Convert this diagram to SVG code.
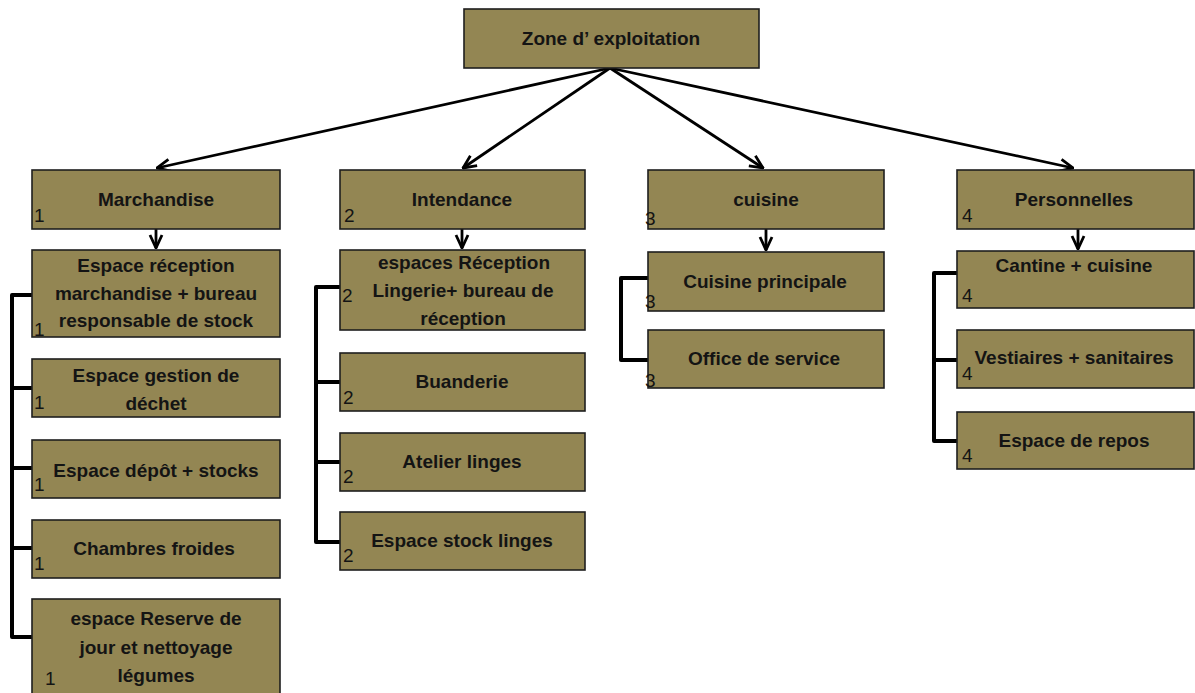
<svg xmlns="http://www.w3.org/2000/svg" width="1195" height="693" viewBox="0 0 1195 693">
<style>
.box{fill:#938653;stroke:#1e1e1e;stroke-width:1.6}
.t{font-family:"Liberation Sans",Arial,sans-serif;font-weight:bold;font-size:19px;fill:#141414;text-anchor:middle}
.n{font-family:"Liberation Sans",Arial,sans-serif;font-size:19px;fill:#141414}
.arr{fill:none;stroke:#000;stroke-width:2.8;marker-end:url(#ah)}
.br{fill:none;stroke:#000;stroke-width:4;stroke-linejoin:round}
</style>
<defs>
<marker id="ah" viewBox="0 0 16 16" refX="15" refY="8" markerWidth="16" markerHeight="16" markerUnits="userSpaceOnUse" orient="auto">
<path d="M2,2 L15,8 L2,14" fill="none" stroke="#000" stroke-width="2.8"/>
</marker>
</defs>
<rect width="1195" height="693" fill="#fff"/>
<g id="connectors">
<path class="arr" d="M610,68 L157,168"/>
<path class="arr" d="M610,68 L463,168"/>
<path class="arr" d="M610,68 L763,168"/>
<path class="arr" d="M610,68 L1073,168"/>
<path class="arr" d="M156,229 L156,248"/>
<path class="arr" d="M462,229 L462,248"/>
<path class="arr" d="M766,229 L766,250"/>
<path class="arr" d="M1078,229 L1078,249"/>
<path class="br" d="M36,295 H12 V637 H36 M12,388 H36 M12,468 H36 M12,548 H36"/>
<path class="br" d="M342,287 H316 V542 H342 M316,382 H342 M316,462 H342"/>
<path class="br" d="M650,278 H621 V360 H650"/>
<path class="br" d="M960,273 H934 V441 H960 M934,360 H960"/>
</g>
<g id="zone"><rect class="box" x="464" y="9" width="295" height="59"/><text class="t" x="611" y="45">Zone d’ exploitation</text></g>
<g id="marchandise"><rect class="box" x="32" y="170" width="248" height="59"/><text class="t" x="156" y="206">Marchandise</text><text class="n" x="34" y="222">1</text></g>
<g id="intendance"><rect class="box" x="340" y="170" width="245" height="59"/><text class="t" x="462" y="206">Intendance</text><text class="n" x="344" y="222">2</text></g>
<g id="cuisine"><rect class="box" x="648" y="170" width="236" height="59"/><text class="t" x="766" y="206">cuisine</text><text class="n" x="645" y="225">3</text></g>
<g id="personnelles"><rect class="box" x="957" y="170" width="237" height="59"/><text class="t" x="1074" y="206">Personnelles</text><text class="n" x="962" y="222">4</text></g>

<g id="m1"><rect class="box" x="32" y="250" width="248" height="87"/><text class="t" x="156" y="272">Espace réception</text><text class="t" x="156" y="300">marchandise + bureau</text><text class="t" x="156" y="327">responsable de stock</text><text class="n" x="34" y="336">1</text></g>
<g id="m2"><rect class="box" x="32" y="359" width="248" height="58"/><text class="t" x="156" y="382">Espace gestion de</text><text class="t" x="156" y="410">déchet</text><text class="n" x="34" y="409">1</text></g>
<g id="m3"><rect class="box" x="32" y="440" width="248" height="58"/><text class="t" x="156" y="477">Espace dépôt  + stocks</text><text class="n" x="34" y="491">1</text></g>
<g id="m4"><rect class="box" x="32" y="520" width="248" height="58"/><text class="t" x="154" y="555">Chambres froides</text><text class="n" x="34" y="570">1</text></g>
<g id="m5"><rect class="box" x="32" y="599" width="248" height="100"/><text class="t" x="156" y="625">espace Reserve de</text><text class="t" x="156" y="654">jour et nettoyage</text><text class="t" x="156" y="682">légumes</text><text class="n" x="45" y="685">1</text></g>

<g id="i1"><rect class="box" x="340" y="250" width="245" height="80"/><text class="t" x="464" y="269">espaces Réception</text><text class="t" x="463" y="297">Lingerie+ bureau de</text><text class="t" x="463" y="325">réception</text><text class="n" x="342" y="302">2</text></g>
<g id="i2"><rect class="box" x="340" y="353" width="245" height="58"/><text class="t" x="462" y="388">Buanderie</text><text class="n" x="343" y="404">2</text></g>
<g id="i3"><rect class="box" x="340" y="433" width="245" height="58"/><text class="t" x="462" y="468">Atelier linges</text><text class="n" x="343" y="483">2</text></g>
<g id="i4"><rect class="box" x="340" y="512" width="245" height="58"/><text class="t" x="462" y="547">Espace stock linges</text><text class="n" x="343" y="562">2</text></g>

<g id="c1"><rect class="box" x="648" y="252" width="236" height="59"/><text class="t" x="765" y="288">Cuisine principale</text><text class="n" x="645" y="308">3</text></g>
<g id="c2"><rect class="box" x="648" y="330" width="236" height="58"/><text class="t" x="764" y="365">Office de service</text><text class="n" x="645" y="387">3</text></g>

<g id="p1"><rect class="box" x="957" y="251" width="237" height="57"/><text class="t" x="1074" y="272">Cantine + cuisine</text><text class="n" x="962" y="302">4</text></g>
<g id="p2"><rect class="box" x="957" y="330" width="237" height="58"/><text class="t" x="1074" y="364">Vestiaires + sanitaires</text><text class="n" x="962" y="380">4</text></g>
<g id="p3"><rect class="box" x="957" y="412" width="237" height="57"/><text class="t" x="1074" y="447">Espace de repos</text><text class="n" x="962" y="462">4</text></g>
</svg>
